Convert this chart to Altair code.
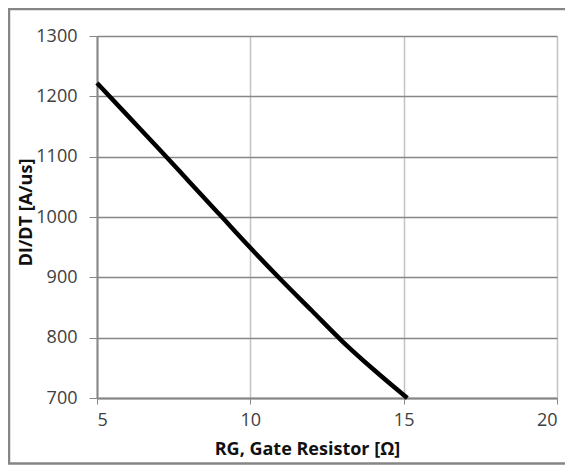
import altair as alt
import pandas as pd

rg_ohm = [5, 6, 7, 8, 9, 10, 11, 12, 13, 14, 15, 15.12]
didt = [1222, 1168, 1114, 1059, 1004, 949, 896, 845, 794, 748, 705, 700]

x_ticks = [5, 10, 15, 20]
y_ticks = [700, 800, 900, 1000, 1100, 1200, 1300]

df = pd.DataFrame({"rg": rg_ohm, "didt": didt})

FONT = "Open Sans"
AX = "#868686"

line = alt.Chart(df).mark_line(color="black", strokeWidth=4.5, interpolate="monotone").encode(
    x=alt.X(
        "rg:Q",
        scale=alt.Scale(domain=[5, 20], nice=False, zero=False),
        axis=alt.Axis(
            values=x_ticks,
            format="d",
            title="RG, Gate Resistor [Ω]",
            titleFont=FONT,
            titleFontSize=18,
            titleFontWeight="bold",
            titleColor="#111",
            titleX=210,
            titleY=51,
            titleAlign="center",
            titleBaseline="middle",
            labelFont=FONT,
            labelFontSize=18,
            labelColor="#404040",
            labelPadding=7,
            tickSize=6,
            tickColor=AX,
            domainColor=AX,
            domainWidth=2,
            gridColor="#c4c4c4",
            gridWidth=1.5,
        ),
    ),
    y=alt.Y(
        "didt:Q",
        scale=alt.Scale(domain=[700, 1300], nice=False, zero=False),
        axis=alt.Axis(
            values=y_ticks,
            format="d",
            title="DI/DT [A/us]",
            titleFont=FONT,
            titleFontSize=18,
            titleFontWeight="bold",
            titleColor="#111",
            titleX=-71,
            titleY=176,
            titleAngle=270,
            titleAlign="center",
            titleBaseline="middle",
            labelFont=FONT,
            labelFontSize=18,
            labelColor="#404040",
            labelPadding=12,
            tickSize=8,
            tickColor=AX,
            domainColor=AX,
            domainWidth=2,
            gridColor=AX,
            gridWidth=1.5,
        ),
    ),
)

border = alt.Chart(alt.Data(values=[{}])).mark_rect(
    fillOpacity=0, stroke=AX, strokeWidth=2.5
).encode(
    x=alt.value(-88), x2=alt.value(600), y=alt.value(-27), y2=alt.value(427.5)
)

chart = alt.layer(line, border).properties(
    width=460,
    height=362,
    autosize=alt.AutoSizeParams(type="none"),
    padding={"left": 89, "top": 28, "right": 8, "bottom": 67},
).configure_view(stroke=None)

chart.save("out.html", embed_options={"renderer": "svg", "actions": False})
